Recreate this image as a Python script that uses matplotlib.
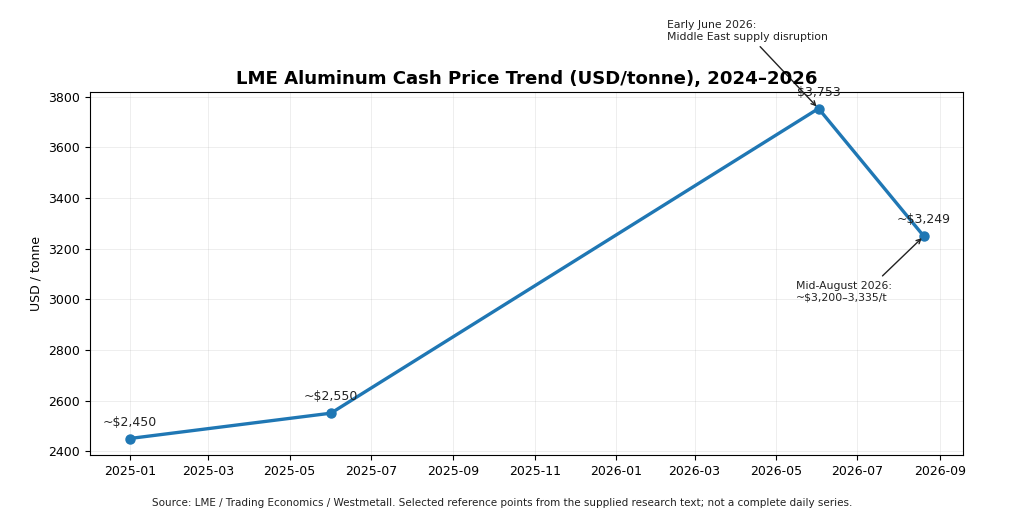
import numpy as np
import pandas as pd
import matplotlib
matplotlib.use("Agg")
import matplotlib.pyplot as plt
import matplotlib.dates as mdates

# 数据点
dates = pd.to_datetime(["2025-01-01", "2025-06-01", "2026-06-02", "2026-08-20"])
prices = [2450, 2550, 3753, 3249]
labels = ["~$2,450", "~$2,550", "$3,753", "~$3,249"]

title = "LME Aluminum Cash Price Trend (USD/tonne), 2024\u20132026"
ylabel = "USD / tonne"
note_peak = "Early June 2026:\nMiddle East supply disruption"
note_last = "Mid-August 2026:\n~$3,200\u20133,335/t"
source = ("Source: LME / Trading Economics / Westmetall. Selected reference points "
          "from the supplied research text; not a complete daily series.")

fig = plt.figure(figsize=(10.24, 5.19), dpi=100)
ax = fig.add_axes([0.0879, 0.1233, 0.853, 0.6994])

ax.plot(dates, prices, marker="o", color="#1f77b4", linewidth=2.4, markersize=6.5)

# 数值标签
for d, p, lab in zip(dates, prices, labels):
    ax.annotate(lab, (d, p), textcoords="offset points", xytext=(0, 7),
                ha="center", va="bottom", fontsize=9, color="#222222")

# 注释箭头
ax.annotate(note_peak, (dates[2], prices[2]), textcoords="offset points",
            xytext=(-109, 48), ha="left", va="bottom", fontsize=7.8, color="#222222",
            annotation_clip=False,
            arrowprops=dict(arrowstyle="->", color="#222222", lw=1.0,
                            relpos=(0.55, 0.0), shrinkA=2, shrinkB=2))
ax.annotate(note_last, (dates[3], prices[3]), textcoords="offset points",
            xytext=(-92, -32), ha="left", va="top", fontsize=7.8, color="#222222",
            arrowprops=dict(arrowstyle="->", color="#222222", lw=1.0,
                            relpos=(0.85, 1.0), shrinkA=2, shrinkB=2))

ax.set_title(title, fontsize=13.1, fontweight="bold", pad=6)
ax.set_ylabel(ylabel, fontsize=9)
ax.tick_params(labelsize=9)
ax.grid(True, alpha=0.25, linewidth=0.6)

ax.xaxis.set_major_locator(mdates.MonthLocator(bymonth=[1, 3, 5, 7, 9, 11]))
ax.xaxis.set_major_formatter(mdates.DateFormatter("%Y-%m"))

fig.text(0.49, 0.03, source, ha="center", va="center", fontsize=7.5, color="#222222")

fig.savefig("out.png", dpi=100)
plt.close(fig)
